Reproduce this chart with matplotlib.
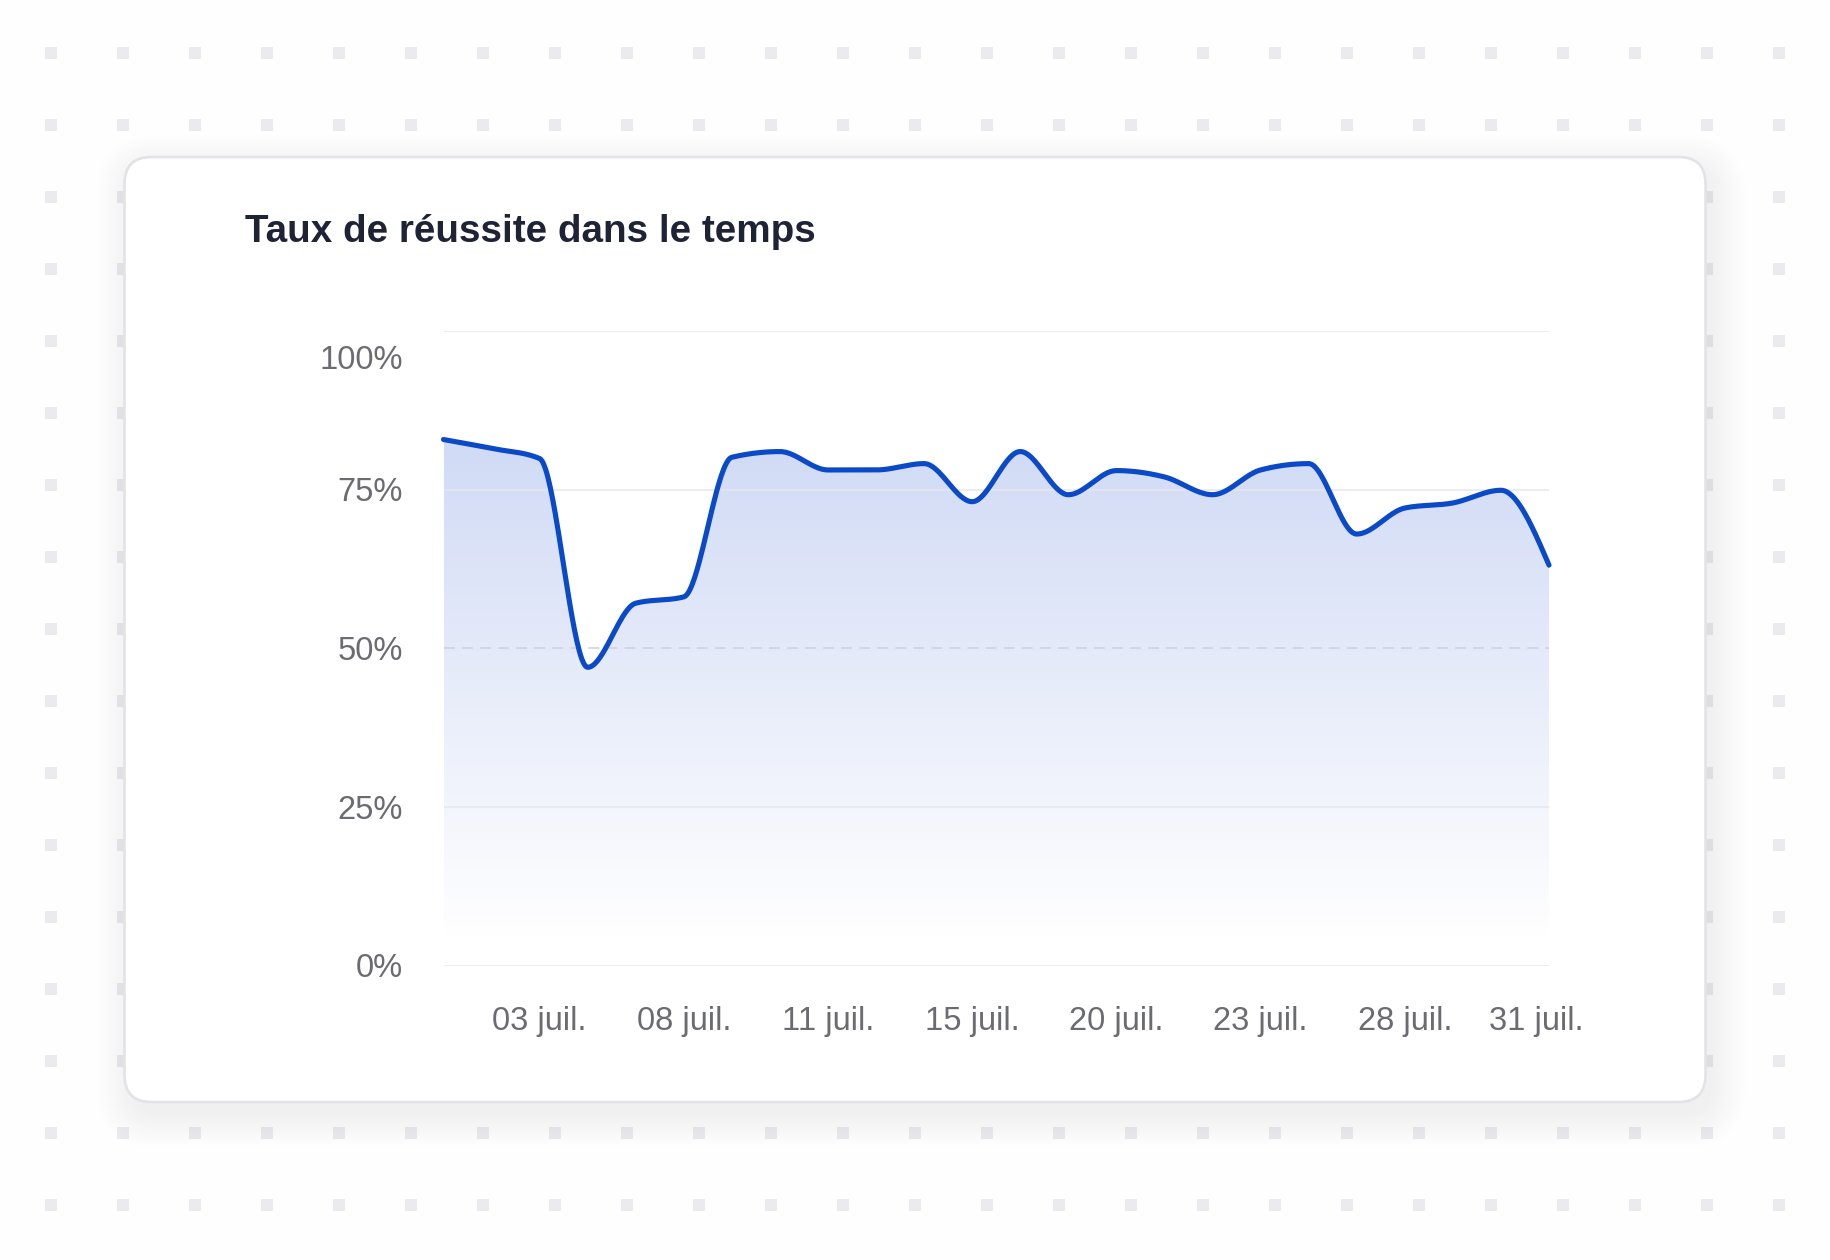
import numpy as np
import matplotlib
matplotlib.use("Agg")
import matplotlib.pyplot as plt
from matplotlib.patches import FancyBboxPatch, Rectangle, Polygon

# ---------------- data ----------------
dates = ["01 juil.", "02 juil.", "03 juil.", "05 juil.", "06 juil.", "08 juil.",
         "09 juil.", "10 juil.", "11 juil.", "13 juil.", "14 juil.", "15 juil.",
         "17 juil.", "18 juil.", "20 juil.", "21 juil.", "22 juil.", "23 juil.",
         "25 juil.", "26 juil.", "28 juil.", "29 juil.", "30 juil.", "31 juil."]
success_rate = [82.9, 81.5, 79.9, 47.0, 57.1, 58.1, 80.1, 81.0, 78.1, 78.1,
                79.1, 73.1, 81.0, 74.2, 78.0, 77.0, 74.2, 78.1, 79.1, 68.0,
                72.1, 72.9, 74.9, 63.1]
shown_ticks = [2, 5, 8, 11, 14, 17, 20, 23]
y_ticks = [0, 25, 50, 75, 100]
y_tick_labels = ["0%", "25%", "50%", "75%", "100%"]
title = "Taux de réussite dans le temps"

# ---------------- styling ----------------
W, H, DPI = 1830, 1260, 100
LINE_COLOR = "#0a49c7"
FILL_RGB = (0.13, 0.31, 0.82)
TICK_COLOR = "#6b6b72"
TITLE_COLOR = "#1f2336"
FONT = ["Liberation Sans", "DejaVu Sans"]


def monotone_curve(x, y, samples=40):
    """d3-style monotoneX cubic interpolation, returns dense points."""
    x = np.asarray(x, float)
    y = np.asarray(y, float)
    n = len(x)
    h = np.diff(x)
    s = np.diff(y) / h
    t = np.zeros(n)
    for i in range(1, n - 1):
        h0, h1 = h[i - 1], h[i]
        s0, s1 = s[i - 1], s[i]
        p = (s0 * h1 + s1 * h0) / (h0 + h1)
        t[i] = (np.sign(s0) + np.sign(s1)) * min(abs(s0), abs(s1), 0.5 * abs(p))
    t[0] = (3 * s[0] - t[1]) / 2
    t[-1] = (3 * s[-1] - t[-2]) / 2
    xs, ys = [], []
    for i in range(n - 1):
        dx = (x[i + 1] - x[i]) / 3
        p0 = np.array([x[i], y[i]])
        p1 = np.array([x[i] + dx, y[i] + dx * t[i]])
        p2 = np.array([x[i + 1] - dx, y[i + 1] - dx * t[i + 1]])
        p3 = np.array([x[i + 1], y[i + 1]])
        u = np.linspace(0, 1, samples, endpoint=(i == n - 2))[:, None]
        pts = ((1 - u) ** 3) * p0 + 3 * ((1 - u) ** 2) * u * p1 + 3 * (1 - u) * u ** 2 * p2 + u ** 3 * p3
        xs.append(pts[:, 0])
        ys.append(pts[:, 1])
    return np.concatenate(xs), np.concatenate(ys)


fig = plt.figure(figsize=(W / DPI, H / DPI), dpi=DPI)
fig.patch.set_facecolor("#fefefe")

# ---------- background layer (pixel coordinates, origin top-left) ----------
bg = fig.add_axes([0, 0, 1, 1])
bg.set_xlim(0, W)
bg.set_ylim(H, 0)
bg.axis("off")

# dotted grid
dot = 12
for gx in np.arange(50.8, 1800, 72.0):
    for gy in np.arange(53.4, 1230, 72.0):
        bg.add_patch(Rectangle((gx - dot / 2, gy - dot / 2), dot, dot,
                               facecolor="#ebeaee", edgecolor="none", zorder=1))

# card with soft shadow
cx0, cy0, cx1, cy1 = 124.5, 157.0, 1705.5, 1102.0
for i in range(14):
    grow = 2.6 * i
    bg.add_patch(FancyBboxPatch((cx0 - grow + 6, cy0 - grow + 12),
                                (cx1 - cx0) + 2 * grow, (cy1 - cy0) + 2 * grow,
                                boxstyle=f"round,pad=0,rounding_size={27 + grow}",
                                facecolor=(0.6, 0.55, 0.72, 0.0026),
                                edgecolor="none", zorder=2))
bg.add_patch(FancyBboxPatch((cx0, cy0), cx1 - cx0, cy1 - cy0,
                            boxstyle="round,pad=0,rounding_size=27",
                            facecolor="#ffffff", edgecolor="#e3e2e7",
                            linewidth=1.9, zorder=3))

bg.text(245, 242, title, fontsize=27.8, fontweight="bold", color=TITLE_COLOR,
        family=FONT, ha="left", va="baseline", zorder=4)

# ---------- chart ----------
x_left, x_right = 443.5, 1549.0
y_top, y_bot = 331.0, 965.5
ax = fig.add_axes([x_left / W, (H - y_bot) / H, (x_right - x_left) / W, (y_bot - y_top) / H])
ax.patch.set_alpha(0)
for sp in ax.spines.values():
    sp.set_visible(False)
ax.set_xlim(0, len(dates) - 1)
ax.set_ylim(0, 100)
ax.set_xticks([])
ax.set_yticks([])

xi = np.arange(len(dates))
cx, cy = monotone_curve(xi, success_rate)

# gradient fill
poly_pts = np.vstack([np.column_stack([cx, cy]), [[cx[-1], 0], [cx[0], 0]]])
poly = Polygon(poly_pts, closed=True, facecolor="none", edgecolor="none")
ax.add_patch(poly)
vv = np.linspace(0, 100, 400)
alpha = np.clip((vv - 3) / 80.0, 0, None) * 0.21
grad = np.zeros((len(vv), 1, 4))
grad[..., 0] = FILL_RGB[0]
grad[..., 1] = FILL_RGB[1]
grad[..., 2] = FILL_RGB[2]
grad[:, 0, 3] = alpha
img = ax.imshow(grad, extent=[0, len(dates) - 1, 0, 100], origin="lower",
                aspect="auto", zorder=1, interpolation="bilinear")
img.set_clip_path(poly)

# gridlines
for v in y_ticks:
    if v == 50:
        ax.axhline(v, color="#cfd2dc", lw=1.3, ls=(0, (6, 4)), zorder=2, alpha=0.9)
    else:
        ax.axhline(v, color="#e6e6ec", lw=1.3, zorder=2, alpha=0.8)

ax.plot(cx, cy, color=LINE_COLOR, lw=3.7, solid_capstyle="round",
        solid_joinstyle="round", zorder=3, clip_on=False)

# y tick labels
for v, lab in zip(y_ticks, y_tick_labels):
    dy = -38 if v == 100 else -11.7
    ax.annotate(lab, xy=(0, v), xycoords=("axes fraction", "data"),
                xytext=(-40.5, dy), textcoords="offset pixels",
                ha="right", va="baseline", fontsize=23.5, color=TICK_COLOR,
                family=FONT, annotation_clip=False)

# x tick labels
for i in shown_ticks:
    dx = -13 if i == len(dates) - 1 else 0
    ax.annotate(dates[i], xy=(i, 0), xycoords="data",
                xytext=(dx, -64.5), textcoords="offset pixels",
                ha="center", va="baseline", fontsize=23.5, color=TICK_COLOR,
                family=FONT, annotation_clip=False)

fig.savefig("out.png", dpi=DPI, facecolor=fig.get_facecolor())
